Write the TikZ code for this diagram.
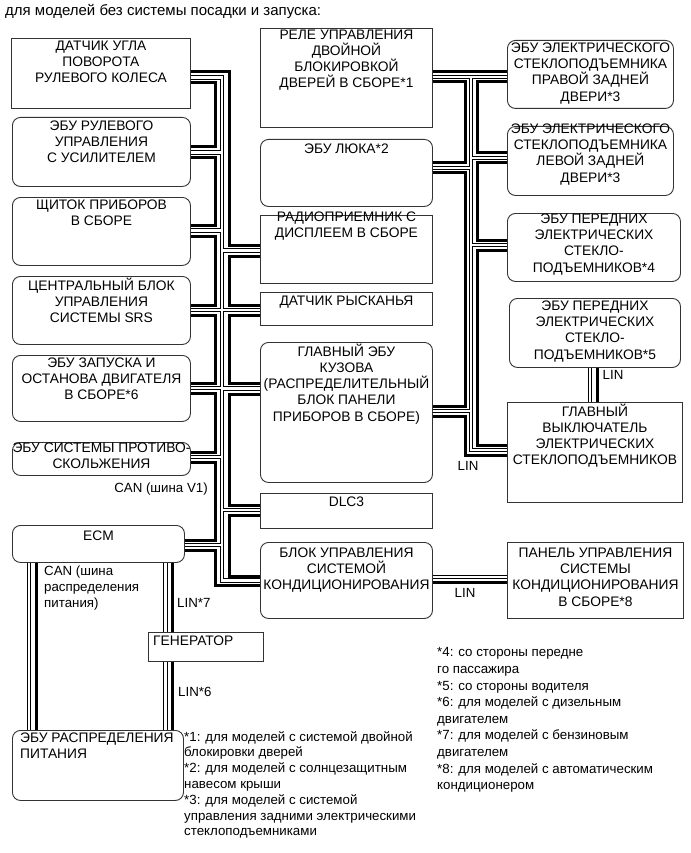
\documentclass[tikz,border=0pt]{standalone}
\usepackage{fontspec}
\setmainfont{Liberation Sans}
\usetikzlibrary{calc, positioning}

\tikzset{
    blk/.style={draw=black!80, line width=0.9pt, anchor=north west, inner sep=0pt},
    sqblk/.style={blk},
    rdblk/.style={blk, rounded corners=8pt},
    txt/.style={align=center, inner sep=0pt,
        execute at begin node={\rule{0pt}{12.5pt}},
        font=\fontsize{13.8}{16.3}\selectfont},
    lefttxt/.style={txt, align=left},
    note/.style={anchor=north west, align=left, inner sep=0pt,
        execute at begin node={\rule{0pt}{12pt}},
        font=\fontsize{13.3}{15.8}\selectfont},
    lbl/.style={inner sep=0pt, font=\fontsize{13.3}{15.8}\selectfont},
    hv/.style={line width=3pt},
    dbl/.style={double, double distance=2.1pt, line width=1.1pt}
}

\begin{document}
\begin{tikzpicture}[x=1pt, y=-1pt]

    \useasboundingbox[fill=white] (0,0) rectangle (690,853);

    % =================================================================
    % 1. ЗАГОЛОВОК
    % =================================================================
    \node[lbl, anchor=base west, font=\fontsize{15}{16}\selectfont] (head) at (5,15.5)
        {для моделей без системы посадки и запуска:};

    % =================================================================
    % 2. БЛОКИ ЛЕВОЙ КОЛОНКИ
    % =================================================================
    \node[sqblk, minimum width=179pt, minimum height=70pt] (steer) at (11,38) {};
    \node[txt, below=2.4pt of steer.north] (steer-t) {ДАТЧИК УГЛА\\ПОВОРОТА\\РУЛЕВОГО КОЛЕСА};

    \node[rdblk, minimum width=178pt, minimum height=69pt] (eps) at (12,117) {};
    \node[txt, below=3.4pt of eps.north] (eps-t) {ЭБУ РУЛЕВОГО\\УПРАВЛЕНИЯ\\С УСИЛИТЕЛЕМ};

    \node[rdblk, minimum width=178pt, minimum height=68pt] (meter) at (12,197) {};
    \node[txt, below=2.4pt of meter.north] (meter-t) {ЩИТОК ПРИБОРОВ\\В СБОРЕ};

    \node[rdblk, minimum width=178pt, minimum height=68pt] (srs) at (12,276) {};
    \node[txt, below=1.4pt of srs.north] (srs-t) {ЦЕНТРАЛЬНЫЙ БЛОК\\УПРАВЛЕНИЯ\\СИСТЕМЫ SRS};

    \node[rdblk, minimum width=178pt, minimum height=66pt] (ssu) at (12,355) {};
    \node[txt, below=2.4pt of ssu.north] (ssu-t) {ЭБУ ЗАПУСКА И\\ОСТАНОВА ДВИГАТЕЛЯ\\В СБОРЕ*6};

    \node[rdblk, minimum width=178pt, minimum height=33pt] (skid) at (12,442) {};
    \node[txt, below=0.4pt of skid.north] (skid-t) {ЭБУ СИСТЕМЫ ПРОТИВО-\\СКОЛЬЖЕНИЯ};

    \node[rdblk, minimum width=172pt, minimum height=37pt] (ecm) at (12,525) {};
    \node[txt, below=2.4pt of ecm.north] (ecm-t) {ECM};

    \node[sqblk, minimum width=115pt, minimum height=29pt] (gen) at (148,632) {};
    \node[lefttxt, below right=0.4pt and 5pt of gen.north west] (gen-t) {ГЕНЕРАТОР};

    \node[rdblk, minimum width=171pt, minimum height=70pt] (pdu) at (12,730) {};
    \node[lefttxt, below right=2.4pt and 8pt of pdu.north west] (pdu-t) {ЭБУ РАСПРЕДЕЛЕНИЯ\\ПИТАНИЯ};

    % =================================================================
    % 3. БЛОКИ СРЕДНЕЙ КОЛОНКИ
    % =================================================================
    \node[sqblk, minimum width=172pt, minimum height=99pt] (relay) at (260,28) {};
    \node[txt, below=1.4pt of relay.north] (relay-t) {РЕЛЕ УПРАВЛЕНИЯ\\ДВОЙНОЙ\\БЛОКИРОВКОЙ\\ДВЕРЕЙ В СБОРЕ*1};

    \node[rdblk, minimum width=172pt, minimum height=67pt] (roof) at (260,139) {};
    \node[txt, below=1.4pt of roof.north] (roof-t) {ЭБУ ЛЮКА*2};

    \node[sqblk, minimum width=172pt, minimum height=68pt] (radio) at (260,215) {};
    \node[txt, below=-3.5pt of radio.north] (radio-t) {РАДИОПРИЕМНИК С\\ДИСПЛЕЕМ В СБОРЕ};

    \node[sqblk, minimum width=172pt, minimum height=33pt] (yaw) at (260,292) {};
    \node[txt, below=0.4pt of yaw.north] (yaw-t) {ДАТЧИК РЫСКАНЬЯ};

    \node[rdblk, minimum width=172pt, minimum height=140pt] (body) at (260,342) {};
    \node[txt, below=1.4pt of body.north] (body-t) {ГЛАВНЫЙ ЭБУ\\КУЗОВА\\(РАСПРЕДЕЛИТЕЛЬНЫЙ\\БЛОК ПАНЕЛИ\\ПРИБОРОВ В СБОРЕ)};

    \node[sqblk, minimum width=172pt, minimum height=35pt] (dlc) at (260,493) {};
    \node[txt, below=0.4pt of dlc.north] (dlc-t) {DLC3};

    \node[rdblk, minimum width=172pt, minimum height=76pt] (ac) at (260,542) {};
    \node[txt, below=5.4pt of ac.north] (ac-t) {БЛОК УПРАВЛЕНИЯ\\СИСТЕМОЙ\\КОНДИЦИОНИРОВАНИЯ};

    % =================================================================
    % 4. БЛОКИ ПРАВОЙ КОЛОНКИ
    % =================================================================
    \node[rdblk, minimum width=166pt, minimum height=68pt] (rrw) at (507,40) {};
    \node[txt, below=2.4pt of rrw.north] (rrw-t) {ЭБУ ЭЛЕКТРИЧЕСКОГО\\СТЕКЛОПОДЪЕМНИКА\\ПРАВОЙ ЗАДНЕЙ\\ДВЕРИ*3};

    \node[rdblk, minimum width=166pt, minimum height=69pt] (rlw) at (507,126) {};
    \node[txt, below=-2.5pt of rlw.north] (rlw-t) {ЭБУ ЭЛЕКТРИЧЕСКОГО\\СТЕКЛОПОДЪЕМНИКА\\ЛЕВОЙ ЗАДНЕЙ\\ДВЕРИ*3};

    \node[rdblk, minimum width=173pt, minimum height=68pt] (fpw) at (507,213) {};
    \node[txt, below=0.4pt of fpw.north] (fpw-t) {ЭБУ ПЕРЕДНИХ\\ЭЛЕКТРИЧЕСКИХ\\СТЕКЛО-\\ПОДЪЕМНИКОВ*4};

    \node[rdblk, minimum width=171pt, minimum height=69pt] (fdw) at (509,298) {};
    \node[txt, below=2.4pt of fdw.north] (fdw-t) {ЭБУ ПЕРЕДНИХ\\ЭЛЕКТРИЧЕСКИХ\\СТЕКЛО-\\ПОДЪЕМНИКОВ*5};

    \node[sqblk, minimum width=175pt, minimum height=100pt] (msw) at (507,402) {};
    \node[txt, below=1.4pt of msw.north] (msw-t) {ГЛАВНЫЙ\\ВЫКЛЮЧАТЕЛЬ\\ЭЛЕКТРИЧЕСКИХ\\СТЕКЛОПОДЪЕМНИКОВ};

    \node[sqblk, minimum width=176pt, minimum height=76pt] (acp) at (507,542) {};
    \node[txt, below=5.4pt of acp.north] (acp-t) {ПАНЕЛЬ УПРАВЛЕНИЯ\\СИСТЕМЫ\\КОНДИЦИОНИРОВАНИЯ\\В СБОРЕ*8};

    % =================================================================
    % 5. ШИНА CAN (V1)
    % =================================================================
    % Жирный провод, левая ветвь
    \draw[hv] (steer.east |- 0,83) -| (215,147) -- (eps.east |- 0,147);
    \draw[hv] (eps.east |- 0,158) -| (215,225) -- (meter.east |- 0,225);
    \draw[hv] (meter.east |- 0,236) -| (215,305) -- (srs.east |- 0,305);
    \draw[hv] (srs.east |- 0,315) -| (215,383) -- (ssu.east |- 0,383);
    \draw[hv] (ssu.east |- 0,393) -| (215,452) -- (skid.east |- 0,452);
    \draw[hv] (skid.east |- 0,462) -| (215,540) -- (ecm.east |- 0,540);
    \draw[hv] (ecm.east |- 0,550) -| (215,585) -- (ac.west |- 0,585);

    % Жирный провод, правая ветвь
    \draw[hv] (steer.east |- 0,72) -| (229,245) -- (radio.west |- 0,245);
    \draw[hv] (radio.west |- 0,256) -| (229,305) -- (yaw.west |- 0,305);
    \draw[hv] (yaw.west |- 0,315) -| (229,383) -- (body.west |- 0,383);
    \draw[hv] (body.west |- 0,394) -| (229,505) -- (dlc.west |- 0,505);
    \draw[hv] (dlc.west |- 0,515) -| (229,576) -- (ac.west |- 0,576);

    % Двойной провод (одним путем)
    \draw[dbl] (steer.east |- 0,77.5) -| (222,580.5) -- (ac.west |- 0,580.5)
        (eps.east |- 0,152.5) -- (222,152.5)
        (meter.east |- 0,230.5) -- (222,230.5)
        (srs.east |- 0,310) -- (222,310)
        (ssu.east |- 0,388) -- (222,388)
        (skid.east |- 0,457) -- (222,457)
        (ecm.east |- 0,545) -- (222,545)
        (222,250.5) -- (radio.west |- 0,250.5)
        (222,310) -- (yaw.west |- 0,310)
        (222,388.5) -- (body.west |- 0,388.5)
        (222,510) -- (dlc.west |- 0,510);

    % =================================================================
    % 6. ШИНА LIN СТЕКЛОПОДЪЕМНИКОВ
    % =================================================================
    \draw[hv] (relay.east |- 0,72) -- (rrw.west |- 0,72);
    \draw[hv] (relay.east |- 0,82) -| (465,163) -- (roof.east |- 0,163);
    \draw[hv] (roof.east |- 0,173) -| (465,406) -- (body.east |- 0,406);
    \draw[hv] (body.east |- 0,416) -| (465,455) -- (msw.west |- 0,455);
    \draw[hv] (rrw.west |- 0,82) -| (477,153) -- (rlw.west |- 0,153);
    \draw[hv] (rlw.west |- 0,163) -| (477,240) -- (fpw.west |- 0,240);
    \draw[hv] (fpw.west |- 0,250) -| (477,445) -- (msw.west |- 0,445);

    \draw[dbl] (relay.east |- 0,77) -- (rrw.west |- 0,77)
        (471,77) |- (msw.west |- 0,450)
        (roof.east |- 0,168) -- (471,168)
        (471,158) -- (rlw.west |- 0,158)
        (471,245) -- (fpw.west |- 0,245)
        (body.east |- 0,411) -- (471,411);

    % =================================================================
    % 7. ОТДЕЛЬНЫЕ ЛИНИИ
    % =================================================================
    % ECM - ЭБУ распределения питания
    \draw[dbl] (29,0 |- ecm.south) -- (29,0 |- pdu.north);
    \draw[hv] (36,0 |- ecm.south) -- (36,0 |- pdu.north);

    % ECM - генератор - ЭБУ распределения питания
    \draw[dbl] (165.5,0 |- ecm.south) -- (165.5,0 |- gen.north);
    \draw[hv] (172,0 |- ecm.south) -- (172,0 |- gen.north);
    \draw[dbl] (165.5,0 |- gen.south) -- (165.5,0 |- pdu.north);
    \draw[hv] (172,0 |- gen.south) -- (172,0 |- pdu.north);

    % Стеклоподъемник водителя - главный выключатель
    \draw[dbl] (590,0 |- fdw.south) -- (590,0 |- msw.north);
    \draw[hv] (597,0 |- fdw.south) -- (597,0 |- msw.north);

    % Кондиционер - панель управления
    \draw[dbl] (ac.east |- 0,577) -- (acp.west |- 0,577);
    \draw[hv] (ac.east |- 0,582) -- (acp.west |- 0,582);

    % =================================================================
    % 8. ПОДПИСИ ЛИНИЙ И ПРИМЕЧАНИЯ
    % =================================================================
    \node[lbl, anchor=base] (can-v1) at (161,492) {CAN (шина V1)};
    \node[note] (can-pw) at (44,566) {CAN (шина\\распределения\\питания)};
    \node[lbl, anchor=west] (lin-7) at (177,603) {LIN*7};
    \node[lbl, anchor=west] (lin-6) at (178,692) {LIN*6};
    \node[lbl] (lin-ac) at (465,593) {LIN};
    \node[lbl] (lin-pw) at (613,375) {LIN};
    \node[lbl] (lin-sw) at (468,466) {LIN};

    \node[note] (notes-a) at (184,731)
        {*1: для моделей с системой двойной\\блокировки дверей\\*2: для моделей с солнцезащитным\\навесом крыши\\*3: для моделей с системой\\управления задними электрическими\\стеклоподъемниками};
    \node[note, font=\fontsize{13.3}{16.6}\selectfont] (notes-b) at (437,647.5)
        {*4: со стороны передне\\го пассажира\\*5: со стороны водителя\\*6: для моделей с дизельным\\двигателем\\*7: для моделей с бензиновым\\двигателем\\*8: для моделей с автоматическим\\кондиционером};

\end{tikzpicture}
\end{document}
